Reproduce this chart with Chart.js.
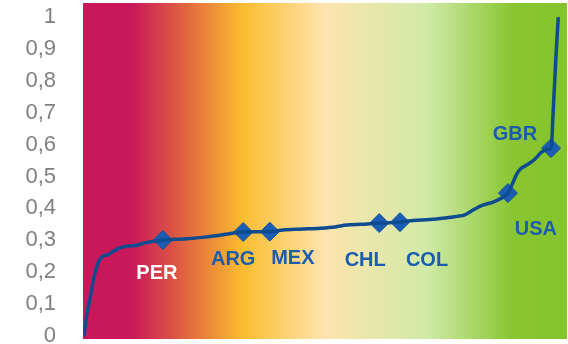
<!DOCTYPE html>
<html lang="es">
<head>
<meta charset="UTF-8">
<title>Distribución</title>
<script src="https://cdn.jsdelivr.net/npm/chart.js@4"></script>
<style>
  html, body { margin: 0; padding: 0; background: #ffffff; }
  #wrap { width: 568px; height: 344px; position: relative; }
</style>
</head>
<body>
<div id="wrap"><canvas id="chart" width="568" height="344"></canvas></div>
<script>
// Ranked curve (position 0-100, share 0-1)
const curveX = [0.2, 0.8, 1.5, 2.2, 3.3, 4.1, 5.2, 6.2, 7.6, 9.3, 10.9, 12.8, 14.9, 16.5, 19.0,
  22.1, 25.2, 28.3, 30.8, 33.1, 35.7, 38.6, 41.3, 44.8, 49.0, 52.1, 54.5, 57.6, 61.2, 63.4,
  65.5, 68.2, 71.7, 74.8, 77.3, 78.9, 80.6, 82.6, 84.7, 86.2, 87.8, 88.8, 89.7, 90.5, 91.9,
  93.4, 94.6, 95.9, 96.7, 96.9, 97.1, 97.4, 97.7, 98.0, 98.2];
const curveY = [0, 0.07, 0.12, 0.18, 0.235, 0.25, 0.255, 0.265, 0.276, 0.282, 0.284, 0.292, 0.298, 0.301, 0.303,
  0.306, 0.31, 0.316, 0.322, 0.326, 0.327, 0.327, 0.332, 0.335, 0.338, 0.342, 0.348, 0.35, 0.354, 0.355,
  0.357, 0.362, 0.365, 0.37, 0.375, 0.38, 0.395, 0.41, 0.42, 0.43, 0.448, 0.48, 0.51, 0.525, 0.538,
  0.555, 0.575, 0.585, 0.589, 0.62, 0.69, 0.78, 0.87, 0.95, 1.0];

// Highlighted countries on the curve
const markerCodes = ['PER', 'ARG', 'MEX', 'CHL', 'COL', 'USA', 'GBR'];
const markerX = [16.5, 33.1, 38.6, 61.2, 65.5, 87.8, 96.7];
const markerY = [0.301, 0.326, 0.327, 0.354, 0.357, 0.448, 0.589];

const tickValues = [0, 0.1, 0.2, 0.3, 0.4, 0.5, 0.6, 0.7, 0.8, 0.9, 1];

// label offsets from each marker, in px
const labelOffsets = {
  PER: [-6, 33], ARG: [-10, 27], MEX: [23, 27], CHL: [-14, 37],
  COL: [27, 38], USA: [28, 36], GBR: [-36, -14]
};

const gradientBackground = {
  id: 'gradientBackground',
  beforeDraw(chart) {
    const { ctx, chartArea: a } = chart;
    const g = ctx.createLinearGradient(a.left, 0, a.right, 0);
    g.addColorStop(0, '#c8185a');
    g.addColorStop(0.10, '#c8185a');
    g.addColorStop(0.21, '#e0643f');
    g.addColorStop(0.33, '#fbbd30');
    g.addColorStop(0.50, '#fde4ae');
    g.addColorStop(0.71, '#d0eaa8');
    g.addColorStop(0.89, '#88c530');
    g.addColorStop(1, '#86c42e');
    ctx.save();
    ctx.fillStyle = g;
    ctx.fillRect(a.left, a.top, a.right - a.left, a.bottom - a.top);
    ctx.restore();
  }
};

const markerLabels = {
  id: 'markerLabels',
  afterDatasetsDraw(chart) {
    const { ctx } = chart;
    const meta = chart.getDatasetMeta(1);
    ctx.save();
    ctx.font = 'bold 20px "Liberation Sans", Arial, sans-serif';
    ctx.textAlign = 'center';
    ctx.textBaseline = 'middle';
    meta.data.forEach((pt, i) => {
      const code = markerCodes[i];
      const off = labelOffsets[code];
      ctx.fillStyle = code === 'PER' ? '#ffffff' : '#1b5cb0';
      ctx.fillText(code, pt.x + off[0], pt.y + off[1]);
    });
    ctx.restore();
  }
};

new Chart(document.getElementById('chart'), {
  type: 'line',
  data: {
    datasets: [{
      data: curveX.map((x, i) => ({ x, y: curveY[i] })),
      borderColor: '#0e4c8f',
      borderWidth: 3.5,
      pointRadius: 0,
      cubicInterpolationMode: 'monotone',
      fill: false
    }, {
      data: markerX.map((x, i) => ({ x, y: markerY[i] })),
      showLine: false,
      pointStyle: 'rectRot',
      pointRadius: 9.5,
      pointBackgroundColor: '#1b5db4',
      pointBorderColor: '#17539f',
      pointBorderWidth: 1
    }]
  },
  options: {
    responsive: false,
    animation: false,
    devicePixelRatio: 1,
    layout: { autoPadding: false, padding: { top: 3, bottom: 5, right: 1, left: 0 } },
    plugins: { legend: { display: false }, tooltip: { enabled: false } },
    scales: {
      x: { type: 'linear', min: 0, max: 100, display: false },
      y: {
        min: -0.0094,
        max: 1.044,
        afterBuildTicks(scale) { scale.ticks = tickValues.map(v => ({ value: v })); },
        afterFit(scale) {
          scale.width = 83;
          scale.paddingTop = 0;
          scale.paddingBottom = 0;
        },
        grid: { display: false, drawTicks: false },
        border: { display: false },
        ticks: {
          autoSkip: false,
          padding: 27,
          color: '#808080',
          font: { family: '"Liberation Sans", Arial, sans-serif', size: 22 },
          callback: v => String(Math.round(v * 10) / 10).replace('.', ',')
        }
      }
    }
  },
  plugins: [gradientBackground, markerLabels]
});
</script>
</body>
</html>
